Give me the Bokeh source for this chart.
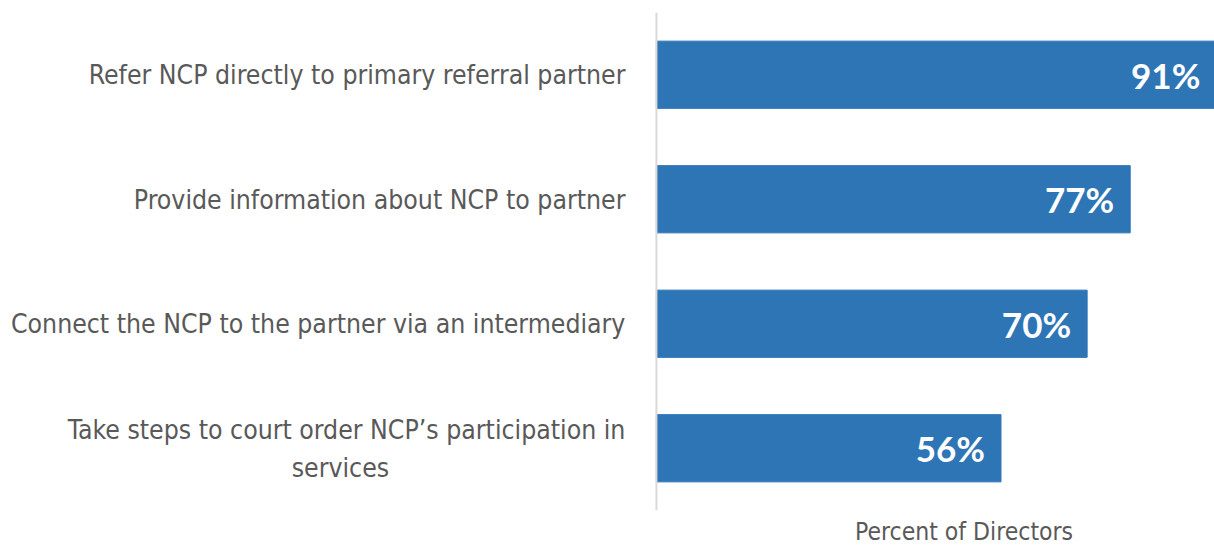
from bokeh.plotting import figure
from bokeh.models import FactorRange, Range1d, FixedTicker, ColumnDataSource, Span
from bokeh.embed import file_html
from bokeh.resources import INLINE
from bokeh.core.properties import value

categories = [
    "Refer NCP directly to primary referral partner",
    "Provide information about NCP to partner",
    "Connect the NCP to the partner via an intermediary",
    "Take steps to court order NCP\u2019s participation in\nservices",
]
values = [91, 77, 70, 56]
value_labels = ["91%", "77%", "70%", "56%"]
axis_title = "Percent of Directors"

LABEL_FONT = "DejaVu Sans Condensed"
GAP = 31          # px between label and axis line
WRAP_CENTER = 316  # px from axis line to centre of a wrapped label block
LINE_HALF = 19     # half the line spacing of wrapped labels

src = ColumnDataSource(dict(cat=categories, val=values, lab=value_labels))

# category label rows (wrapped labels split into lines)
lx, ly, lt, lxo, lyo, la = [], [], [], [], [], []
for c in categories:
    lines = c.split("\n")
    if len(lines) == 1:
        lx.append(0); ly.append(c); lt.append(c); lxo.append(-GAP); lyo.append(0); la.append("right")
    else:
        lx.append(0); ly.append(c); lt.append(lines[0]); lxo.append(-GAP); lyo.append(-LINE_HALF); la.append("right")
        lx.append(0); ly.append(c); lt.append(lines[1]); lxo.append(-WRAP_CENTER); lyo.append(LINE_HALF); la.append("center")
lab_src = ColumnDataSource(dict(x=lx, y=ly, t=lt, xo=lxo, yo=lyo, a=la))

p = figure(
    y_range=FactorRange(*categories[::-1]),
    x_range=Range1d(-106.6, 90.7),
    frame_width=1214, frame_height=498,
    min_border_left=0, min_border_right=0, min_border_top=12, min_border_bottom=34,
    output_backend="svg", toolbar_location=None,
)
p.hbar(y="cat", right="val", left=0, height=0.54, source=src,
       fill_color="#2E75B6", line_color="#2E75B6")
p.text(x="val", y="cat", text="lab", source=src, x_offset=-16,
       text_align="right", text_baseline="middle",
       text_font=value("Lato"), text_font_style="bold",
       text_font_size="35px", text_color="white")
p.text(x="x", y="y", text="t", source=lab_src, x_offset="xo", y_offset="yo",
       text_align="a", text_baseline="middle",
       text_font=value(LABEL_FONT), text_font_size="26.4px", text_color="#595959")

p.add_layout(Span(location=0, dimension="height", line_color="#d9d9d9", line_width=2))

p.xgrid.visible = False
p.ygrid.visible = False
p.yaxis.visible = False
p.outline_line_color = None
p.background_fill_color = "white"
p.border_fill_color = "white"

xa = p.xaxis[0]
xa.ticker = FixedTicker(ticks=[50])
xa.major_label_overrides = {50: axis_title}
xa.axis_line_color = None
xa.major_tick_line_color = None
xa.minor_tick_line_color = None
xa.major_label_standoff = 0
xa.major_label_text_font = LABEL_FONT
xa.major_label_text_font_size = "24.5px"
xa.major_label_text_color = "#595959"

open("out.html", "w").write(file_html(p, INLINE))
